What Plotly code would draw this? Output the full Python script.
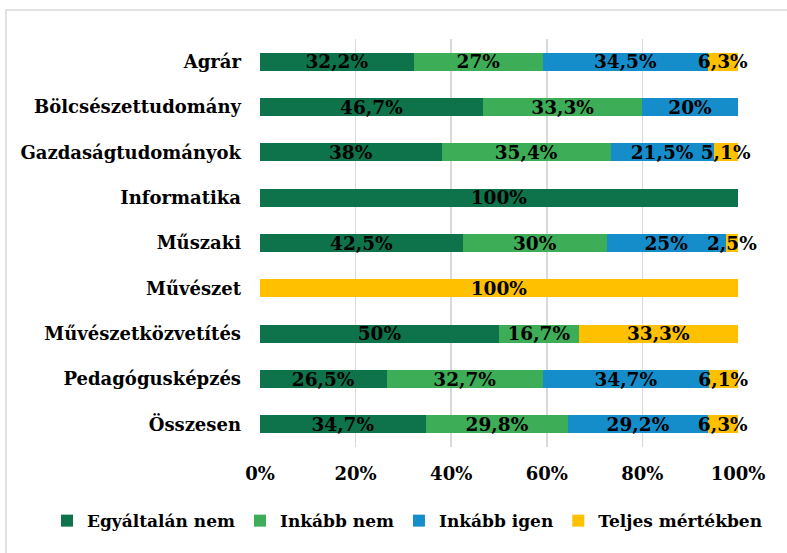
import plotly.graph_objects as go

categories = ["Agrár", "Bölcsészettudomány", "Gazdaságtudományok", "Informatika",
              "Műszaki", "Művészet", "Művészetközvetítés", "Pedagógusképzés", "Összesen"]
series_names = ["Egyáltalán nem", "Inkább nem", "Inkább igen", "Teljes mértékben"]
egyaltalan_nem = [32.2, 46.7, 38.0, 100.0, 42.5, 0.0, 50.0, 26.5, 34.7]
inkabb_nem = [27.0, 33.3, 35.4, 0.0, 30.0, 0.0, 16.7, 32.7, 29.8]
inkabb_igen = [34.5, 20.0, 21.5, 0.0, 25.0, 0.0, 0.0, 34.7, 29.2]
teljes = [6.3, 0.0, 5.1, 0.0, 2.5, 100.0, 33.3, 6.1, 6.3]
tick_vals = [0, 20, 40, 60, 80, 100]
tick_text = ["0%", "20%", "40%", "60%", "80%", "100%"]

colors = ["#0e734a", "#3dad57", "#168dcb", "#ffc000"]
FONT = "DejaVu Serif"

PW, PH = 478, 407.5  # plot area size in px (for paper-relative placement)


def fmt(v):
    if v <= 0:
        return ""
    s = ("%.1f" % v).rstrip("0").rstrip(".")
    return s.replace(".", ",") + "%"


fig = go.Figure()
for name, vals, col in zip(series_names, [egyaltalan_nem, inkabb_nem, inkabb_igen, teljes], colors):
    fig.add_trace(go.Bar(
        y=categories, x=vals, name=name, orientation="h",
        marker=dict(color=col, line=dict(width=0)),
        text=[fmt(v) for v in vals], textposition="inside", insidetextanchor="middle",
        textangle=0, constraintext="none", cliponaxis=False,
        textfont=dict(family=FONT, size=18.5, color="black", weight="bold"),
        width=0.4, hoverinfo="skip",
    ))

fig.update_layout(
    barmode="stack",
    width=787, height=553,
    margin=dict(l=260, r=49, t=39, b=106, autoexpand=False),
    paper_bgcolor="white", plot_bgcolor="white",
    font=dict(family=FONT, size=17, color="black", weight="bold"),
    xaxis=dict(range=[0, 100], tickvals=tick_vals, ticktext=tick_text,
               showgrid=True, gridcolor="#d9d9d9", gridwidth=1.5, zeroline=False,
               showline=False, ticks="", ticklabelstandoff=14, automargin=False,
               tickfont=dict(family=FONT, size=18, color="black", weight="bold")),
    yaxis=dict(autorange="reversed", showgrid=False, showline=False, ticks="",
               ticklabelstandoff=18, automargin=False,
               tickfont=dict(family=FONT, size=18, color="black", weight="bold")),
    legend=dict(orientation="h", xref="paper", yref="paper",
                x=-213 / PW, xanchor="left", y=-74 / PH, yanchor="middle",
                font=dict(family=FONT, size=17, color="black", weight="bold"),
                itemwidth=30, tracegroupgap=0, traceorder="normal"),
    showlegend=True,
    shapes=[dict(type="rect", xref="paper", yref="paper",
                 x0=-254 / PW, x1=1 + 80 / PW, y0=-140 / PH, y1=1 + 29 / PH,
                 line=dict(color="#d9d9d9", width=1.5), fillcolor="rgba(0,0,0,0)", layer="below")],
)

fig.write_html("out.html", config={"displayModeBar": False, "staticPlot": True},
               post_script="document.body.style.margin='0';document.body.style.overflow='hidden';")
